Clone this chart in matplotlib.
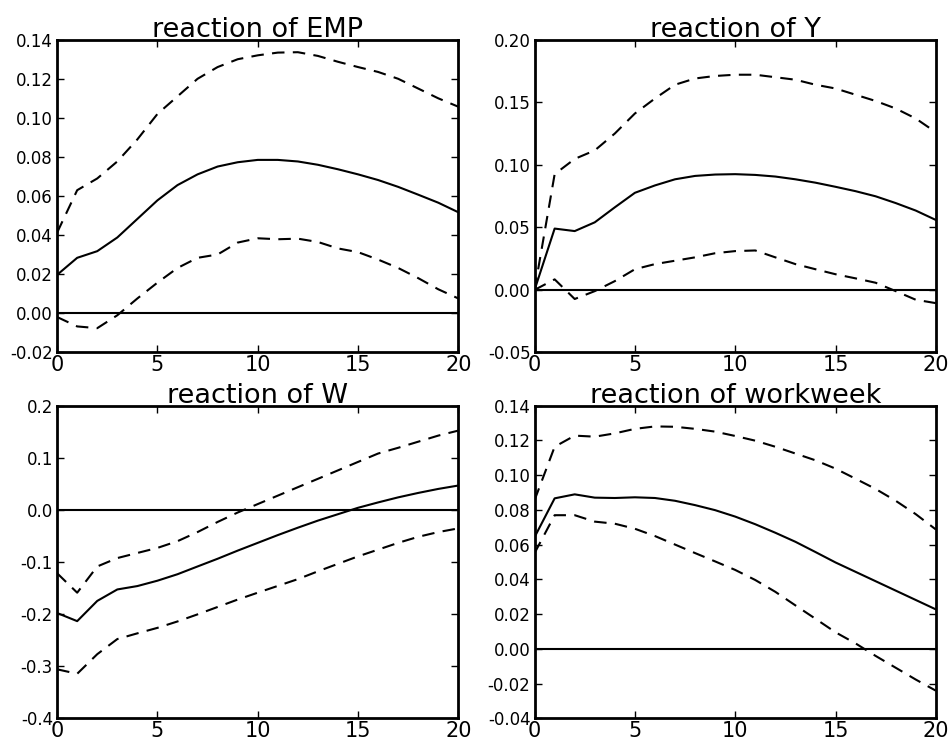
import numpy as np
import matplotlib
matplotlib.use("Agg")
import matplotlib.pyplot as plt
from matplotlib.ticker import FuncFormatter

steps = np.arange(21)

# reaction of EMP
emp_mid = [0.0197, 0.0284, 0.0318, 0.0388, 0.0483, 0.0578, 0.0656, 0.0711, 0.0751, 0.0773, 0.0785,
           0.0785, 0.0777, 0.0760, 0.0737, 0.0711, 0.0682, 0.0647, 0.0607, 0.0566, 0.0517]
emp_hi = [0.0413, 0.063, 0.069, 0.0777, 0.089, 0.102, 0.111, 0.120, 0.126, 0.130, 0.132,
          0.1334, 0.1336, 0.1317, 0.1287, 0.126, 0.1235, 0.120, 0.115, 0.110, 0.1057]
emp_lo = [-0.0019, -0.0067, -0.0076, -0.001, 0.0076, 0.0157, 0.0232, 0.0284, 0.0301, 0.0362, 0.0384,
          0.0379, 0.0382, 0.0365, 0.0332, 0.0313, 0.0275, 0.0232, 0.018, 0.0123, 0.0076]

# reaction of Y
y_mid = [0.0, 0.049, 0.047, 0.054, 0.066, 0.0776, 0.0835, 0.0884, 0.0911, 0.0922, 0.0925,
         0.0919, 0.0906, 0.0884, 0.0857, 0.0824, 0.0789, 0.0748, 0.0694, 0.0634, 0.0559]
y_hi = [0.0, 0.0925, 0.1047, 0.1115, 0.125, 0.141, 0.153, 0.164, 0.169, 0.171, 0.172,
        0.172, 0.170, 0.168, 0.164, 0.161, 0.156, 0.151, 0.145, 0.137, 0.126]
y_lo = [0.0, 0.0084, -0.0073, -0.001, 0.007, 0.0165, 0.0206, 0.0233, 0.026, 0.0293, 0.031,
        0.0315, 0.026, 0.0206, 0.0165, 0.0125, 0.0092, 0.0057, -0.001, -0.0079, -0.0106]

# reaction of W
w_mid = [-0.198, -0.2136, -0.1748, -0.1528, -0.1463, -0.136, -0.1236, -0.1087, -0.0939, -0.0783, -0.0634,
         -0.0485, -0.0343, -0.0207, -0.0084, 0.0039, 0.0142, 0.0239, 0.0324, 0.0401, 0.0466]
w_hi = [-0.1217, -0.159, -0.1087, -0.0926, -0.0828, -0.0731, -0.0602, -0.0427, -0.0233, -0.0052, 0.011,
        0.0272, 0.0434, 0.0595, 0.0757, 0.0919, 0.108, 0.119, 0.1307, 0.1424, 0.152]
w_lo = [-0.306, -0.3146, -0.277, -0.248, -0.237, -0.2265, -0.2142, -0.2006, -0.1864, -0.1722, -0.159,
        -0.146, -0.133, -0.118, -0.1036, -0.0893, -0.0764, -0.0634, -0.0518, -0.0427, -0.0356]

# reaction of workweek
ww_mid = [0.0643, 0.0866, 0.0889, 0.087, 0.0868, 0.0872, 0.0868, 0.0852, 0.0827, 0.0798, 0.0761,
          0.0717, 0.0668, 0.0616, 0.0557, 0.0497, 0.0443, 0.0389, 0.0335, 0.0281, 0.0227]
ww_hi = [0.0856, 0.1163, 0.1227, 0.1221, 0.124, 0.1266, 0.128, 0.1278, 0.1266, 0.125, 0.1225,
         0.1198, 0.1163, 0.1124, 0.1085, 0.1037, 0.0979, 0.092, 0.0852, 0.0775, 0.0687]
ww_lo = [0.0551, 0.0769, 0.0769, 0.0732, 0.072, 0.0691, 0.0649, 0.060, 0.0551, 0.0503, 0.0454,
         0.0396, 0.0328, 0.025, 0.0173, 0.0095, 0.0031, -0.0041, -0.0109, -0.0177, -0.0241]

panels = [
    ("reaction of EMP", emp_mid, emp_hi, emp_lo, (-0.02, 0.14), np.arange(-0.02, 0.141, 0.02), "%.2f"),
    ("reaction of Y", y_mid, y_hi, y_lo, (-0.05, 0.20), np.arange(-0.05, 0.201, 0.05), "%.2f"),
    ("reaction of W", w_mid, w_hi, w_lo, (-0.4, 0.2), np.arange(-0.4, 0.201, 0.1), "%.1f"),
    ("reaction of workweek", ww_mid, ww_hi, ww_lo, (-0.04, 0.14), np.arange(-0.04, 0.141, 0.02), "%.2f"),
]


def tick_fmt(fmt):
    # plain hyphen for negatives, no "-0.00"
    def f(v, pos):
        if abs(v) < 1e-9:
            v = 0.0
        return fmt % v
    return FuncFormatter(f)


fig, axes = plt.subplots(2, 2, figsize=(9.52, 7.49), dpi=100)
fig.subplots_adjust(left=0.060, right=0.983, top=0.947, bottom=0.041, wspace=0.19, hspace=0.17)

for ax, (title, mid, hi, lo, ylim, yticks, fmt) in zip(axes.flat, panels):
    ax.plot(steps, mid, color="black", lw=1.5)
    ax.plot(steps, hi, color="black", lw=1.5, linestyle=(0, (6, 4)))
    ax.plot(steps, lo, color="black", lw=1.5, linestyle=(0, (6, 4)))
    ax.plot(steps, np.zeros(len(steps)), color="black", lw=1.5)
    ax.set_xlim(0, 20)
    ax.set_ylim(*ylim)
    ax.set_xticks([0, 5, 10, 15, 20])
    ax.set_yticks(yticks)
    ax.yaxis.set_major_formatter(tick_fmt(fmt))
    ax.tick_params(direction="in", top=True, right=True, length=5, width=1, pad=3)
    ax.tick_params(axis="y", labelsize=12)
    ax.tick_params(axis="x", labelsize=15, pad=2)
    for s in ax.spines.values():
        s.set_linewidth(2)
    ax.set_title(title, fontsize=19.5, pad=2)

plt.savefig("out.png", dpi=100)
